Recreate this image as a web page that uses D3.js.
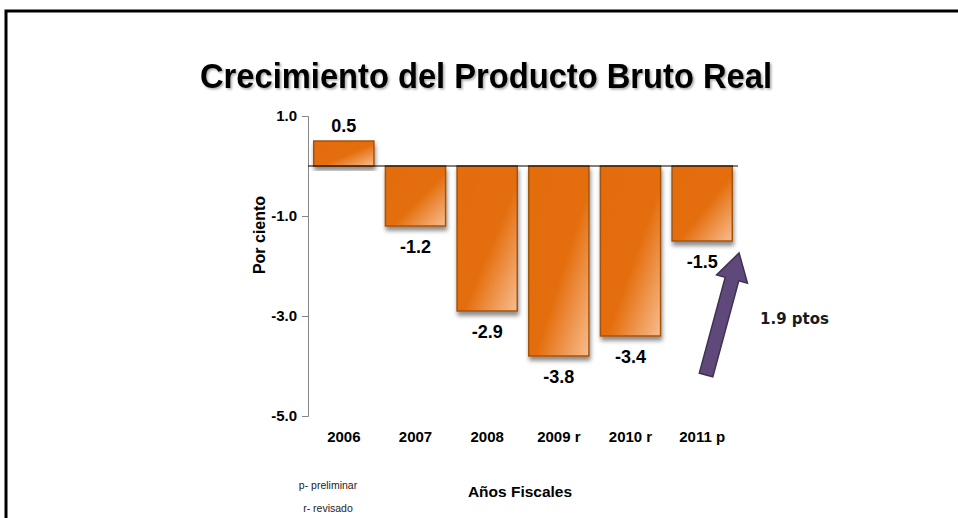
<!DOCTYPE html>
<html>
    <head>
        <script src="https://d3js.org/d3.v7.js"></script>
        <style>
            body { margin: 0; background: #fff; }
        </style>
    </head>
    <body>
        <div class="graph"></div>
        <script>
            const w = 958
            const h = 518

            // data
            const years = ['2006', '2007', '2008', '2009 r', '2010 r', '2011 p']
            const growth = [0.5, -1.2, -2.9, -3.8, -3.4, -1.5]
            const yTicks = [1.0, -1.0, -3.0, -5.0]
            const notes = ['p- preliminar', 'r- revisado']

            const arial = '"Liberation Sans", Arial, sans-serif'
            const fmt = d => d.toFixed(1)

            const svg = d3.select('.graph')
                    .append('svg')
                    .attr('width', w)
                    .attr('height', h)
                    .style('font-family', arial)

            const defs = svg.append('defs')

            const grad = defs.append('linearGradient')
                    .attr('id', 'barFill')
                    .attr('x1', 0).attr('y1', 0)
                    .attr('x2', 1).attr('y2', 1)
            grad.append('stop').attr('offset', 0).attr('stop-color', '#e36c0a')
            grad.append('stop').attr('offset', 0.55).attr('stop-color', '#e46d0c')
            grad.append('stop').attr('offset', 1).attr('stop-color', '#f8bd8e')

            const shadow = defs.append('filter')
                    .attr('id', 'barShadow')
                    .attr('x', '-20%').attr('y', '-20%')
                    .attr('width', '140%').attr('height', '140%')
            shadow.append('feDropShadow')
                    .attr('dx', 1).attr('dy', 4)
                    .attr('stdDeviation', 2)
                    .attr('flood-color', '#000')
                    .attr('flood-opacity', 0.45)

            const titleShadow = defs.append('filter').attr('id', 'titleShadow')
            titleShadow.append('feDropShadow')
                    .attr('dx', 1.5).attr('dy', 1.5)
                    .attr('stdDeviation', 1)
                    .attr('flood-color', '#000')
                    .attr('flood-opacity', 0.35)

            // frame
            svg.append('path')
                .attr('d', 'M6,518V11H958')
                .attr('fill', 'none')
                .attr('stroke', '#000')
                .attr('stroke-width', 3)

            const x = d3.scaleBand()
                    .domain(years)
                    .range([308, 738])
                    .paddingInner(0.16)
                    .paddingOuter(0.08)

            const y = d3.scaleLinear()
                    .domain([-5, 1])
                    .range([416, 116])

            // title
            svg.append('text')
                .attr('x', 486)
                .attr('y', 88)
                .attr('text-anchor', 'middle')
                .attr('font-size', 35)
                .attr('font-weight', 'bold')
                .attr('textLength', 572)
                .attr('lengthAdjust', 'spacingAndGlyphs')
                .attr('filter', 'url(#titleShadow)')
                .text('Crecimiento del Producto Bruto Real')

            // y axis
            const yAxis = d3.axisLeft(y)
                    .tickValues(yTicks)
                    .tickFormat(fmt)
                    .tickSize(6)
                    .tickPadding(5)

            const gy = svg.append('g')
                    .attr('transform', 'translate(308,0)')
                    .call(yAxis)
            gy.select('.domain').attr('stroke', '#868686')
            gy.selectAll('.tick line').attr('stroke', '#868686')
            gy.selectAll('.tick text')
                .attr('font-size', 15)
                .attr('font-weight', 'bold')
                .attr('font-family', arial)
                .attr('fill', '#000')

            // bars
            svg.append('g')
                .selectAll('rect')
                .data(growth)
                .enter()
                .append('rect')
                .attr('x', (d, i) => x(years[i]))
                .attr('y', d => y(Math.max(0, d)))
                .attr('width', x.bandwidth())
                .attr('height', d => Math.abs(y(d) - y(0)))
                .attr('fill', 'url(#barFill)')
                .attr('stroke', '#a4530e')
                .attr('stroke-width', 1.5)
                .attr('filter', 'url(#barShadow)')

            // zero line
            svg.append('line')
                .attr('x1', 308).attr('x2', 738)
                .attr('y1', y(0)).attr('y2', y(0))
                .attr('stroke', '#000')
                .attr('stroke-width', 1)

            // value labels
            svg.append('g')
                .selectAll('text')
                .data(growth)
                .enter()
                .append('text')
                .attr('x', (d, i) => x(years[i]) + x.bandwidth() / 2)
                .attr('y', d => d >= 0 ? y(d) - 9 : y(d) + 27)
                .attr('text-anchor', 'middle')
                .attr('font-size', 18)
                .attr('font-weight', 'bold')
                .text(fmt)

            // x labels
            const xAxis = d3.axisBottom(x).tickSize(0).tickPadding(0)
            const gx = svg.append('g')
                    .attr('transform', 'translate(0,431)')
                    .call(xAxis)
            gx.select('.domain').remove()
            gx.selectAll('.tick text')
                .attr('font-size', 15)
                .attr('font-weight', 'bold')
                .attr('font-family', arial)
                .attr('fill', '#000')

            // axis titles
            svg.append('text')
                .attr('transform', 'translate(265,235) rotate(-90)')
                .attr('text-anchor', 'middle')
                .attr('font-size', 16)
                .attr('font-weight', 'bold')
                .text('Por ciento')

            svg.append('text')
                .attr('x', 520)
                .attr('y', 497)
                .attr('text-anchor', 'middle')
                .attr('font-size', 15.5)
                .attr('font-weight', 'bold')
                .text('Años Fiscales')

            svg.append('g')
                .selectAll('text')
                .data(notes)
                .enter()
                .append('text')
                .attr('x', 328)
                .attr('y', (d, i) => 489 + i * 23)
                .attr('text-anchor', 'middle')
                .attr('font-size', 10.5)
                .attr('fill', '#222')
                .text(d => d)

            // arrow annotation: change between 2010 and 2011
            const last = years.length - 1
            const change = growth[last] - growth[last - 1]
            const tail = [x(years[last]) + 34, y(growth[last] - 2.68)]
            const tip = [x(years[last]) + 67, y(growth[last] - 0.24)]
            const len = Math.hypot(tip[0] - tail[0], tip[1] - tail[1])
            const ang = Math.atan2(tip[1] - tail[1], tip[0] - tail[0]) * 180 / Math.PI
            const hl = 27, sw = 7, hw = 16
            svg.append('path')
                .attr('transform', `translate(${tail[0]},${tail[1]}) rotate(${ang})`)
                .attr('d', `M0,${-sw}L${len - hl},${-sw}L${len - hl},${-hw}L${len},0L${len - hl},${hw}L${len - hl},${sw}L0,${sw}Z`)
                .attr('fill', '#5f497a')
                .attr('stroke', '#3f3151')
                .attr('stroke-width', 1.5)

            svg.append('text')
                .attr('x', 760)
                .attr('y', 324)
                .style('font-family', '"DejaVu Sans", Verdana, sans-serif')
                .attr('font-size', 15)
                .attr('font-weight', 'bold')
                .attr('fill', '#1a1a1a')
                .text(change.toFixed(1) + ' ptos')
        </script>
    </body>
</html>
